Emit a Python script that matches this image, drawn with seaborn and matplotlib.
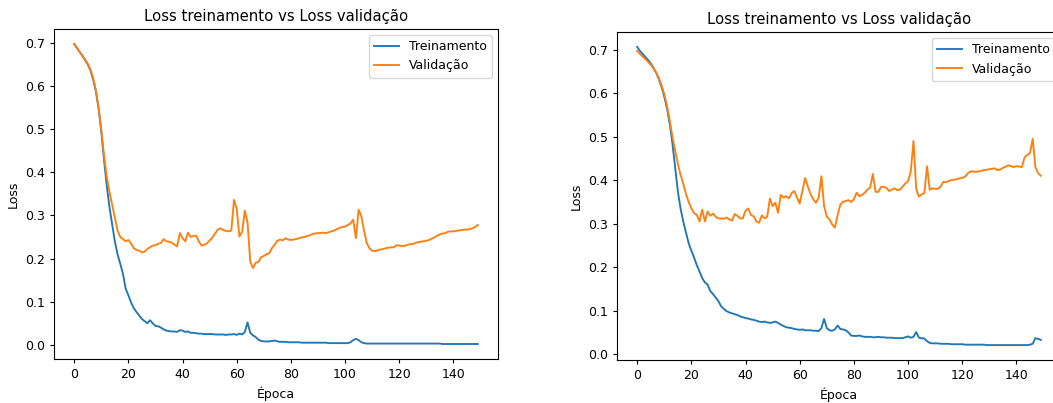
import numpy as np
import pandas as pd
import matplotlib
matplotlib.use("Agg")
import matplotlib.pyplot as plt
import seaborn as sns

# perda por epoca - modelo 1 (esquerda)
loss_treino_1 = [
    0.697, 0.688, 0.679, 0.670, 0.660, 0.650, 0.636, 0.615, 0.588, 0.548,
    0.495, 0.430, 0.370, 0.320, 0.280, 0.240, 0.210, 0.188, 0.165, 0.130,
    0.115, 0.098, 0.085, 0.076, 0.068, 0.060, 0.055, 0.050, 0.057, 0.050,
    0.044, 0.043, 0.040, 0.036, 0.033, 0.032, 0.031, 0.031, 0.030, 0.034,
    0.033, 0.030, 0.031, 0.028, 0.028, 0.027, 0.026, 0.026, 0.025, 0.025,
    0.025, 0.025, 0.024, 0.024, 0.024, 0.024, 0.023, 0.024, 0.024, 0.025,
    0.023, 0.026, 0.024, 0.030, 0.052, 0.028, 0.022, 0.018, 0.012, 0.009,
    0.008, 0.008, 0.008, 0.009, 0.010, 0.008, 0.007, 0.007, 0.007, 0.006,
    0.006, 0.006, 0.006, 0.006, 0.005, 0.005, 0.005, 0.005, 0.005, 0.005,
    0.005, 0.005, 0.005, 0.005, 0.004, 0.004, 0.004, 0.004, 0.004, 0.004,
    0.004, 0.004, 0.006, 0.011, 0.014, 0.011, 0.006, 0.004, 0.003, 0.003,
    0.003, 0.003, 0.003, 0.003, 0.003, 0.003, 0.003, 0.003, 0.003, 0.003,
    0.003, 0.003, 0.003, 0.003, 0.003, 0.003, 0.003, 0.003, 0.003, 0.003,
    0.003, 0.003, 0.003, 0.003, 0.003, 0.003, 0.002, 0.002, 0.002, 0.002,
    0.002, 0.002, 0.002, 0.002, 0.002, 0.002, 0.002, 0.002, 0.002, 0.002,
]
loss_val_1 = [
    0.697, 0.688, 0.679, 0.670, 0.661, 0.651, 0.638, 0.618, 0.590, 0.550,
    0.497, 0.440, 0.390, 0.355, 0.325, 0.295, 0.265, 0.250, 0.245, 0.240,
    0.243, 0.235, 0.224, 0.220, 0.218, 0.214, 0.216, 0.222, 0.226, 0.230,
    0.231, 0.234, 0.236, 0.245, 0.240, 0.239, 0.237, 0.232, 0.228, 0.259,
    0.247, 0.240, 0.260, 0.250, 0.252, 0.253, 0.240, 0.230, 0.232, 0.235,
    0.242, 0.248, 0.258, 0.267, 0.270, 0.266, 0.264, 0.263, 0.265, 0.336,
    0.315, 0.251, 0.262, 0.311, 0.283, 0.193, 0.178, 0.190, 0.192, 0.203,
    0.206, 0.210, 0.212, 0.224, 0.232, 0.241, 0.244, 0.242, 0.247, 0.244,
    0.243, 0.244, 0.245, 0.247, 0.249, 0.250, 0.252, 0.254, 0.257, 0.258,
    0.259, 0.259, 0.260, 0.259, 0.261, 0.263, 0.265, 0.268, 0.271, 0.273,
    0.274, 0.278, 0.281, 0.290, 0.247, 0.313, 0.298, 0.265, 0.236, 0.224,
    0.218, 0.217, 0.219, 0.221, 0.222, 0.224, 0.225, 0.226, 0.226, 0.231,
    0.230, 0.229, 0.229, 0.232, 0.233, 0.234, 0.236, 0.238, 0.239, 0.240,
    0.241, 0.243, 0.246, 0.249, 0.253, 0.256, 0.258, 0.259, 0.262, 0.263,
    0.263, 0.264, 0.265, 0.266, 0.267, 0.267, 0.268, 0.270, 0.273, 0.278,
]

# perda por epoca - modelo 2 (direita)
loss_treino_2 = [
    0.706, 0.697, 0.690, 0.683, 0.676, 0.668, 0.658, 0.647, 0.632, 0.614,
    0.592, 0.565, 0.530, 0.485, 0.430, 0.375, 0.335, 0.305, 0.280, 0.255,
    0.238, 0.222, 0.205, 0.190, 0.175, 0.165, 0.160, 0.145, 0.138, 0.130,
    0.122, 0.110, 0.104, 0.099, 0.096, 0.094, 0.092, 0.090, 0.087, 0.085,
    0.083, 0.082, 0.080, 0.079, 0.077, 0.075, 0.074, 0.075, 0.073, 0.072,
    0.073, 0.075, 0.072, 0.068, 0.065, 0.062, 0.061, 0.060, 0.058, 0.057,
    0.056, 0.057, 0.055, 0.055, 0.055, 0.054, 0.054, 0.053, 0.060, 0.081,
    0.060, 0.055, 0.054, 0.057, 0.066, 0.058, 0.057, 0.055, 0.050, 0.043,
    0.042, 0.042, 0.043, 0.041, 0.040, 0.040, 0.040, 0.039, 0.039, 0.040,
    0.039, 0.039, 0.038, 0.038, 0.038, 0.037, 0.037, 0.037, 0.037, 0.039,
    0.041, 0.038, 0.040, 0.051, 0.038, 0.037, 0.036, 0.030, 0.026, 0.025,
    0.025, 0.025, 0.024, 0.024, 0.024, 0.024, 0.023, 0.023, 0.023, 0.023,
    0.023, 0.022, 0.022, 0.022, 0.022, 0.022, 0.022, 0.022, 0.022, 0.021,
    0.021, 0.021, 0.021, 0.021, 0.021, 0.021, 0.021, 0.021, 0.021, 0.021,
    0.021, 0.021, 0.021, 0.021, 0.021, 0.022, 0.024, 0.037, 0.035, 0.033,
]
loss_val_2 = [
    0.697, 0.690, 0.684, 0.678, 0.672, 0.665, 0.657, 0.647, 0.634, 0.618,
    0.597, 0.571, 0.538, 0.500, 0.468, 0.438, 0.412, 0.392, 0.368, 0.350,
    0.335, 0.324, 0.320, 0.305, 0.332, 0.305, 0.328, 0.318, 0.323, 0.316,
    0.312, 0.312, 0.311, 0.314, 0.310, 0.307, 0.322, 0.318, 0.312, 0.312,
    0.330, 0.335, 0.320, 0.317, 0.305, 0.302, 0.319, 0.312, 0.316, 0.358,
    0.340, 0.348, 0.325, 0.366, 0.360, 0.363, 0.358, 0.370, 0.375, 0.360,
    0.346, 0.375, 0.405, 0.385, 0.368, 0.356, 0.348, 0.360, 0.409, 0.340,
    0.316, 0.310, 0.298, 0.291, 0.320, 0.344, 0.350, 0.352, 0.354, 0.350,
    0.356, 0.371, 0.363, 0.366, 0.371, 0.378, 0.383, 0.414, 0.373, 0.373,
    0.384, 0.385, 0.382, 0.375, 0.378, 0.381, 0.377, 0.378, 0.385, 0.392,
    0.398, 0.420, 0.490, 0.380, 0.362, 0.367, 0.370, 0.432, 0.378, 0.381,
    0.380, 0.380, 0.385, 0.396, 0.395, 0.398, 0.400, 0.401, 0.402, 0.404,
    0.405, 0.408, 0.415, 0.420, 0.420, 0.419, 0.420, 0.421, 0.423, 0.424,
    0.425, 0.426, 0.427, 0.423, 0.424, 0.428, 0.431, 0.434, 0.432, 0.430,
    0.432, 0.431, 0.430, 0.452, 0.458, 0.462, 0.495, 0.430, 0.416, 0.410,
]

epocas = np.arange(len(loss_treino_1))

plt.rcParams["font.size"] = 9
plt.rcParams["lines.linewidth"] = 1.35
plt.rcParams["xtick.major.size"] = 3.1
plt.rcParams["ytick.major.size"] = 3.1

fig = plt.figure(figsize=(10.53, 4.03), dpi=100)
ax1 = fig.add_axes([54 / 1053, 44 / 403, 444 / 1053, 330 / 403])
ax2 = fig.add_axes([617 / 1053, 43 / 403, 444 / 1053, 328 / 403])

for ax, treino, val in [(ax1, loss_treino_1, loss_val_1), (ax2, loss_treino_2, loss_val_2)]:
    df = pd.DataFrame({"epoca": epocas, "Treinamento": treino, "Validação": val})
    sns.lineplot(data=df, x="epoca", y="Treinamento", ax=ax, color="tab:blue", label="Treinamento")
    sns.lineplot(data=df, x="epoca", y="Validação", ax=ax, color="tab:orange", label="Validação")
    ax.set_title("Loss treinamento vs Loss validação", fontsize=10.7)
    ax.set_xlabel("Época")
    ax.set_ylabel("Loss")
    ax.set_xticks([0, 20, 40, 60, 80, 100, 120, 140])
    ax.legend(loc="upper right")

fig.savefig("out.png", dpi=100)
